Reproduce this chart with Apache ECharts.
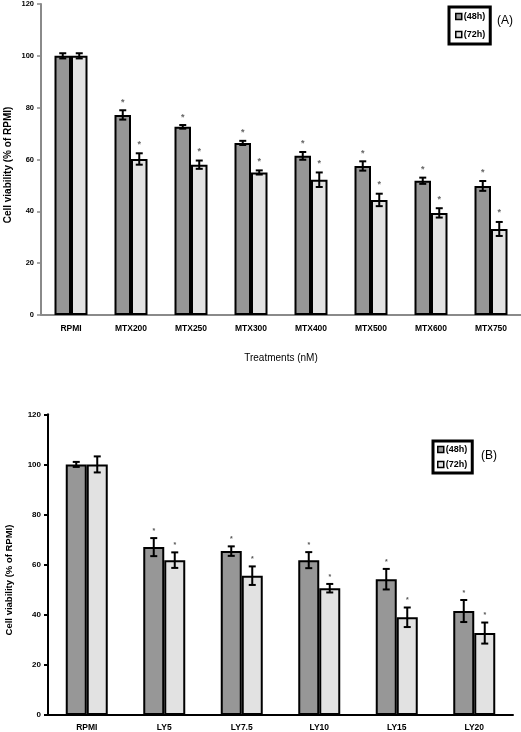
<!DOCTYPE html>
<html><head><meta charset="utf-8">
<script src="https://cdn.jsdelivr.net/npm/echarts@6/dist/echarts.min.js"></script>
<style>html,body{margin:0;padding:0;background:#fff}#c{width:521px;height:732px}</style>
</head><body><div id="c"></div>
<script>
// ---- Data ----
const catsA = ['RPMI','MTX200','MTX250','MTX300','MTX400','MTX500','MTX600','MTX750'];
const a48 = [100, 77.2, 72.6, 66.4, 61.4, 57.5, 51.8, 49.8];
const a48err = [1, 1.8, 0.7, 0.8, 1.5, 1.8, 1.2, 1.9];
const a72 = [100, 60.2, 58.0, 55.0, 52.2, 44.4, 39.4, 33.2];
const a72err = [1, 2.2, 1.6, 0.8, 2.8, 2.4, 1.8, 2.7];
const sigA = [0, 1, 1, 1, 1, 1, 1, 1];

const catsB = ['RPMI','LY5','LY7.5','LY10','LY15','LY20'];
const b48 = [100, 67.0, 65.4, 61.8, 54.2, 41.5];
const b48err = [1, 3.6, 1.9, 3.2, 4.1, 4.4];
const b72 = [100, 61.8, 55.6, 50.6, 39.0, 32.7];
const b72err = [3.2, 3.1, 3.7, 1.7, 3.9, 4.2];
const sigB = [0, 1, 1, 1, 1, 1];

const yTicks = [0, 20, 40, 60, 80, 100, 120];
const seriesNames = ['(48h)', '(72h)'];
const yTitle = 'Cell viability (% of RPMI)';
const xTitleA = 'Treatments (nM)';

// ---- Chart ----
const FONT = '"Liberation Sans", Arial, sans-serif';
const C48 = '#979797', C72 = '#e2e2e2';
const chart = echarts.init(document.getElementById('c'), null, {renderer: 'canvas'});

function errSeries(name, vals, errs, sig, xi, offset, cap, starSize, starGap, starColor) {
  return {
    type: 'custom', name: name, xAxisIndex: xi, yAxisIndex: xi, z: 5,
    silent: true, legendHoverLink: false,
    encode: {x: 0, y: 1},
    data: vals.map((v, i) => [i, v, errs[i], sig[i]]),
    renderItem: function (params, api) {
      const i = api.value(0), v = api.value(1), e = api.value(2), s = api.value(3);
      const p = api.coord([i, v]);
      const cx = p[0] + offset;
      const yt = api.coord([i, v + e])[1];
      const yb = api.coord([i, v - e])[1];
      const st = {stroke: '#000', lineWidth: 2};
      const ch = [
        {type: 'line', shape: {x1: cx, y1: yt, x2: cx, y2: yb}, style: st},
        {type: 'line', shape: {x1: cx - cap, y1: yt, x2: cx + cap, y2: yt}, style: st},
        {type: 'line', shape: {x1: cx - cap, y1: yb, x2: cx + cap, y2: yb}, style: st}
      ];
      if (s) {
        ch.push({type: 'text', x: cx, y: yt - starGap,
          style: {text: '*', fill: starColor, font: 'bold ' + starSize + 'px ' + FONT,
                  align: 'center', verticalAlign: 'middle'}});
      }
      return {type: 'group', children: ch};
    }
  };
}

const bwA = 16.5, bwB = 21;

const option = {
  animation: false,
  backgroundColor: '#fff',
  grid: [
    {left: 41, top: 4, width: 480, height: 311},
    {left: 48, top: 414.3, width: 465, height: 301.4}
  ],
  legend: [
    {data: seriesNames, orient: 'vertical', left: 449, top: 7, itemWidth: 6, itemHeight: 6, itemGap: 9,
     padding: [5, 5, 5, 6], borderColor: '#000', borderWidth: 3, selectedMode: false, icon: 'rect',
     itemStyle: {borderColor: '#000', borderWidth: 1.5},
     textStyle: {fontFamily: FONT, fontSize: 9, fontWeight: 'bold', color: '#000', padding: [0, 0, 0, -3]}},
    {data: seriesNames, orient: 'vertical', left: 433, top: 441, itemWidth: 6, itemHeight: 6, itemGap: 6,
     padding: [4, 5, 4, 4], borderColor: '#000', borderWidth: 3, selectedMode: false, icon: 'rect',
     itemStyle: {borderColor: '#000', borderWidth: 1.5},
     textStyle: {fontFamily: FONT, fontSize: 9, fontWeight: 'bold', color: '#000', padding: [0, 0, 0, -3]}}
  ],
  xAxis: [
    {type: 'category', gridIndex: 0, data: catsA,
     name: xTitleA, nameLocation: 'middle', nameGap: 38,
     nameTextStyle: {fontFamily: FONT, fontSize: 10, color: '#000'},
     axisLine: {lineStyle: {color: '#8a8a8a', width: 2}},
     axisTick: {lineStyle: {color: '#8a8a8a', width: 1.5}, length: 3},
     axisLabel: {fontFamily: FONT, fontSize: 8.5, fontWeight: 'bold', color: '#000', margin: 9}},
    {type: 'category', gridIndex: 1, data: catsB,
     axisLine: {lineStyle: {color: '#000', width: 2}},
     axisTick: {lineStyle: {color: '#000', width: 2}, length: 4},
     axisLabel: {fontFamily: FONT, fontSize: 8.5, fontWeight: 'bold', color: '#000', margin: 8}}
  ],
  yAxis: [
    {type: 'value', gridIndex: 0, min: 0, max: 120, interval: 20,
     axisLine: {show: true, lineStyle: {color: '#8a8a8a', width: 2}},
     axisTick: {show: true, lineStyle: {color: '#8a8a8a', width: 1.5}, length: 4},
     splitLine: {show: false},
     axisLabel: {fontFamily: FONT, fontSize: 7.5, fontWeight: 'bold', color: '#000', margin: 7,
                 formatter: v => yTicks.includes(v) ? String(v) : ''}},
    {type: 'value', gridIndex: 1, min: 0, max: 120, interval: 20,
     axisLine: {show: true, lineStyle: {color: '#000', width: 2}},
     axisTick: {show: true, lineStyle: {color: '#000', width: 2}, length: 4},
     splitLine: {show: false},
     axisLabel: {fontFamily: FONT, fontSize: 8, fontWeight: 'bold', color: '#000', margin: 7,
                 formatter: v => yTicks.includes(v) ? String(v) : ''}}
  ],
  graphic: [
    {type: 'text', x: 8, y: 165, rotation: Math.PI / 2,
     style: {text: yTitle, font: 'bold 10px ' + FONT, fill: '#000', align: 'center', verticalAlign: 'middle'}},
    {type: 'text', x: 9, y: 580, rotation: Math.PI / 2,
     style: {text: yTitle, font: 'bold 9.5px ' + FONT, fill: '#000', align: 'center', verticalAlign: 'middle'}},
    {type: 'text', x: 497, y: 21,
     style: {text: '(A)', font: '12px ' + FONT, fill: '#000', align: 'left', verticalAlign: 'middle'}},
    {type: 'text', x: 481, y: 456,
     style: {text: '(B)', font: '12px ' + FONT, fill: '#000', align: 'left', verticalAlign: 'middle'}}
  ],
  series: [
    {type: 'bar', name: seriesNames[0], xAxisIndex: 0, yAxisIndex: 0, data: a48, barWidth: bwA, barGap: '0%',
     itemStyle: {color: C48, borderColor: '#000', borderWidth: 2}},
    {type: 'bar', name: seriesNames[1], xAxisIndex: 0, yAxisIndex: 0, data: a72, barWidth: bwA, barGap: '0%',
     itemStyle: {color: C72, borderColor: '#000', borderWidth: 2}},
    {type: 'bar', name: seriesNames[0], xAxisIndex: 1, yAxisIndex: 1, data: b48, barWidth: bwB, barGap: '0%',
     itemStyle: {color: C48, borderColor: '#000', borderWidth: 2}},
    {type: 'bar', name: seriesNames[1], xAxisIndex: 1, yAxisIndex: 1, data: b72, barWidth: bwB, barGap: '0%',
     itemStyle: {color: C72, borderColor: '#000', borderWidth: 2}},
    errSeries('errA48', a48, a48err, sigA, 0, -bwA / 2, 3.5, 9, 8, '#666'),
    errSeries('errA72', a72, a72err, sigA, 0, bwA / 2, 3.5, 9, 9, '#666'),
    errSeries('errB48', b48, b48err, sigB, 1, -bwB / 2, 3.5, 7, 7, '#555'),
    errSeries('errB72', b72, b72err, sigB, 1, bwB / 2, 3.5, 7, 7, '#555')
  ]
};
chart.setOption(option);
</script>
</body></html>
